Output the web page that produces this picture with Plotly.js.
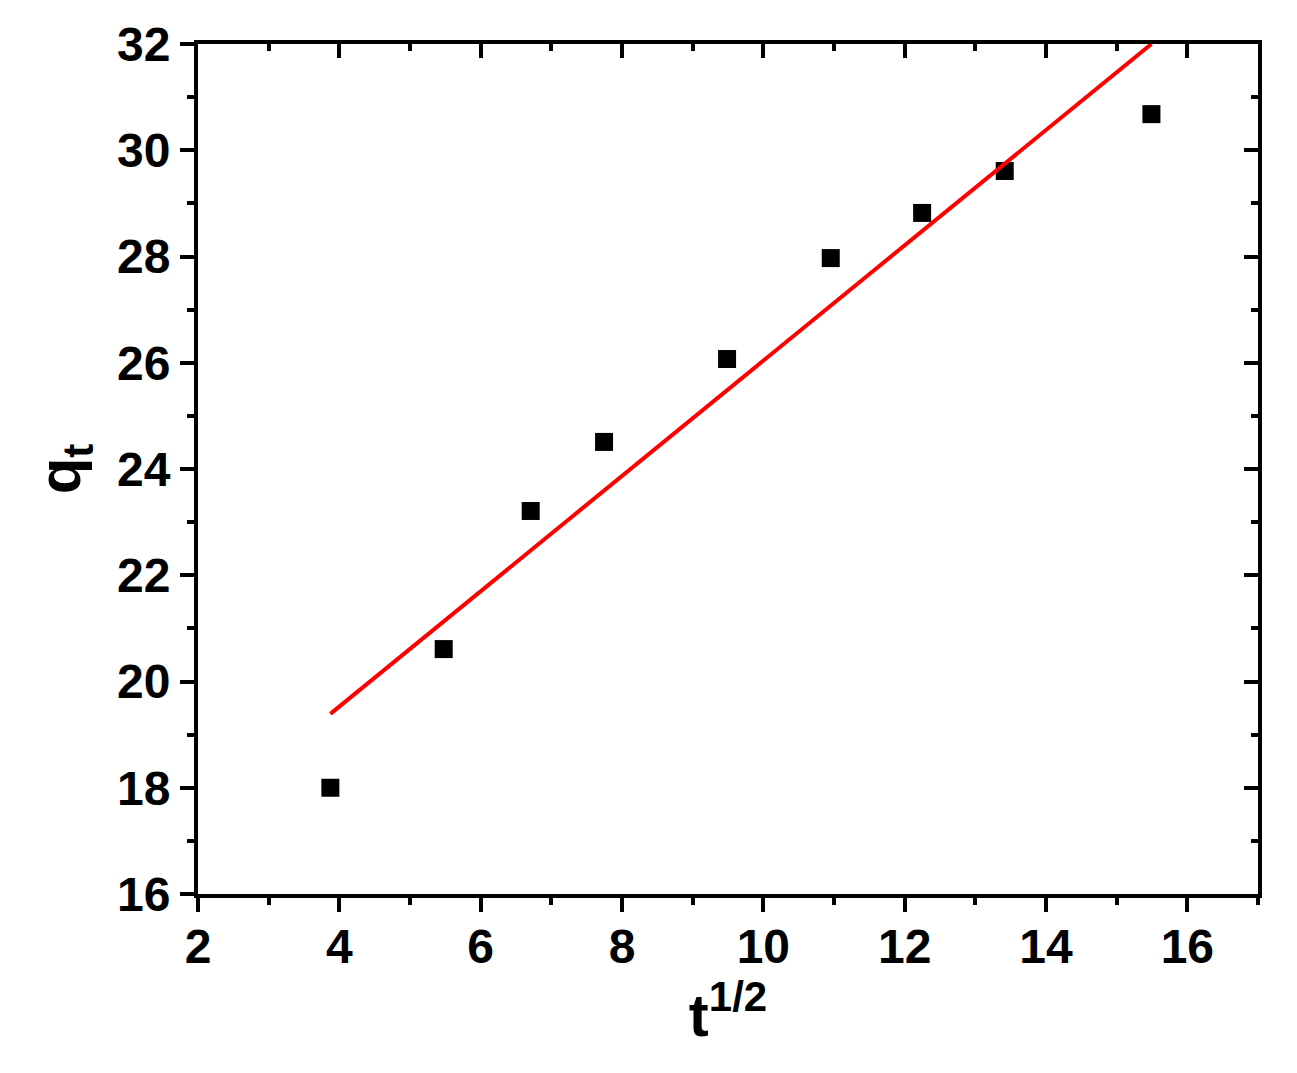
<!DOCTYPE html>
<html>
<head>
<meta charset="utf-8">
<script src="https://cdn.plot.ly/plotly-3.0.1.min.js"></script>
<style>html,body{margin:0;padding:0;background:#fff;}#chart{width:1297px;height:1073px;}</style>
</head>
<body>
<div id="chart"></div>
<script>
// Data
const tSqrt = [3.873, 5.477, 6.708, 7.746, 9.487, 10.954, 12.247, 13.416, 15.492];
const qt    = [18.00, 20.61, 23.21, 24.51, 26.07, 27.97, 28.82, 29.61, 30.68];
const fitX  = [3.873, 15.492];
const fitY  = [19.39, 32.00];
const xTickVals = [2, 4, 6, 8, 10, 12, 14, 16];
const yTickVals = [16, 18, 20, 22, 24, 26, 28, 30, 32];

const FONT = 'Liberation Sans, Arial, sans-serif';
const tickFont = {family: FONT, size: 48, color: '#000', weight: 'bold'};

const traces = [
  {x: tSqrt, y: qt, type: 'scatter', mode: 'markers',
   marker: {symbol: 'square', size: 18, color: '#000'}, showlegend: false},
  {x: fitX, y: fitY, type: 'scatter', mode: 'lines',
   line: {color: '#ff0000', width: 4}, showlegend: false},
  {x: [2], y: [16], xaxis: 'x2', yaxis: 'y2', type: 'scatter', mode: 'markers',
   marker: {size: 0, opacity: 0}, showlegend: false, hoverinfo: 'skip'}
];

const layout = {
  width: 1297, height: 1073,
  paper_bgcolor: '#fff', plot_bgcolor: '#fff',
  margin: {l: 198, r: 39, t: 44, b: 179},
  showlegend: false,
  xaxis: {
    range: [2, 17], tickvals: xTickVals, ticktext: xTickVals.map(String),
    ticks: 'outside', ticklen: 14, tickwidth: 4, tickcolor: '#000',
    ticklabelstandoff: -7,
    minor: {dtick: 1, tick0: 0, ticks: 'outside', ticklen: 7, tickwidth: 4, tickcolor: '#000', showgrid: false},
    showline: true, linewidth: 4, linecolor: '#000', mirror: true,
    showgrid: false, zeroline: false,
    tickfont: tickFont,
    title: {text: 't<sup>1/2</sup>', font: {family: FONT, size: 60, color: '#000', weight: 'bold'}, standoff: 14}
  },
  yaxis: {
    range: [16, 32], tickvals: yTickVals, ticktext: yTickVals.map(String),
    ticks: 'outside', ticklen: 14, tickwidth: 4, tickcolor: '#000',
    minor: {dtick: 1, tick0: 0, ticks: 'outside', ticklen: 7, tickwidth: 4, tickcolor: '#000', showgrid: false},
    showline: true, linewidth: 4, linecolor: '#000', mirror: true,
    showgrid: false, zeroline: false,
    tickfont: tickFont,
    title: {text: 'q<sub>t</sub>', font: {family: FONT, size: 60, color: '#000', weight: 'bold'}, standoff: 18}
  },
  xaxis2: {
    overlaying: 'x', side: 'top', anchor: 'y2', range: [2, 17], tickvals: xTickVals,
    ticks: 'inside', ticklen: 14, tickwidth: 4, tickcolor: '#000',
    minor: {dtick: 1, tick0: 0, ticks: 'inside', ticklen: 7, tickwidth: 4, tickcolor: '#000', showgrid: false},
    showticklabels: false, showline: false, showgrid: false, zeroline: false
  },
  yaxis2: {
    overlaying: 'y', side: 'right', anchor: 'x2', range: [16, 32], tickvals: yTickVals,
    ticks: 'inside', ticklen: 14, tickwidth: 4, tickcolor: '#000',
    minor: {dtick: 1, tick0: 0, ticks: 'inside', ticklen: 7, tickwidth: 4, tickcolor: '#000', showgrid: false},
    showticklabels: false, showline: false, showgrid: false, zeroline: false
  }
};

Plotly.newPlot('chart', traces, layout, {staticPlot: true, displayModeBar: false});
</script>
</body>
</html>
